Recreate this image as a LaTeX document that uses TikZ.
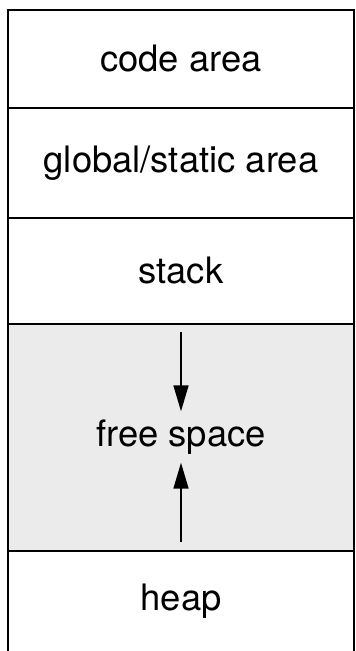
\documentclass[tikz,border=0pt]{standalone}
\usepackage{fontspec}
\setmainfont{TeX Gyre Heros}
\usetikzlibrary{arrows.meta}
\tikzstyle{region} = [rectangle, draw=black, line width=0.8pt, minimum width=173pt, inner sep=0pt, font=\fontsize{18.2}{22}\selectfont]
\tikzstyle{arrow} = [line width=0.8pt, ->, >={Triangle[length=13pt,width=7.5pt]}]
\begin{document}
\begin{tikzpicture}[x=0.5pt, y=-0.5pt]
		\useasboundingbox (0,0) rectangle (355,651);
		\clip (0,0) rectangle (355,651);
		\coordinate (code) at (181,59);
		\coordinate (global) at (181,163);
		\coordinate (stack) at (181,271);
		\coordinate (free) at (181,437.5);
		\coordinate (heap) at (181,606.5);
		\coordinate (stackend) at (181,332);
		\coordinate (heapend) at (181,542);
		% Memory regions
		\node[region, minimum height=49pt, name=code] at (code) {code area};
		\node[region, minimum height=55pt, name=global] at (global) {global/static area};
		\node[region, minimum height=53pt, name=stack] at (stack) {stack};
		\node[region, minimum height=113.5pt, fill=black!8, name=free] at (free) {};
		\node[region, minimum height=55.5pt, name=heap, label={[font=\fontsize{18.2}{22}\selectfont, yshift=2.75pt]center:heap}] at (heap) {};
		% Free space label
		\node[font=\fontsize{18.2}{22}\selectfont, inner sep=4pt, name=freetxt] at (181,437) {free space};
		\draw [arrow] (stackend)--(freetxt.north);
		\draw [arrow] (heapend)--(freetxt.south);
\end{tikzpicture}
\end{document}
